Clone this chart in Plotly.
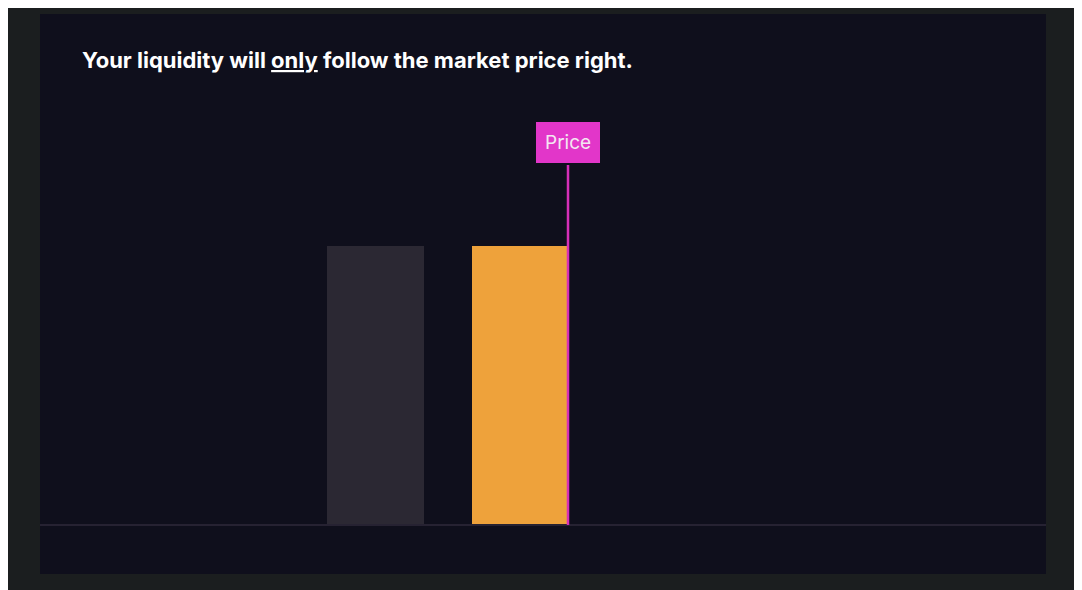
import plotly.graph_objects as go

# data
bar_positions = [335.5, 480.0]      # bin centers (x units)
bar_values = [1.0, 1.0]             # liquidity heights
bar_colors = ["#2b2833", "#eea23b"]
price_value = 528.0
price_label = "Price"
title_text = "Your liquidity will <u>only</u> follow the market price right."

fig = go.Figure()
fig.add_trace(go.Bar(x=bar_positions, y=bar_values, width=97,
                     marker=dict(color=bar_colors, line=dict(width=0)),
                     hoverinfo="skip", showlegend=False))
fig.add_shape(type="line", xref="paper", x0=0, x1=1, y0=0, y1=0,
              line=dict(color="#262232", width=2))
fig.add_shape(type="line", x0=price_value, x1=price_value, y0=0, y1=1.29,
              line=dict(color="#d62fb8", width=2.5))
fig.add_annotation(x=price_value, y=1.372, text=price_label, showarrow=False,
                   font=dict(family="Inter", size=19, color="#f4e6f2"),
                   bgcolor="#e236c9", borderpad=8, bordercolor="#e236c9")
fig.add_annotation(xref="paper", yref="paper", x=0.04, y=0.944, xanchor="left",
                   text="<b>" + title_text + "</b>", showarrow=False,
                   font=dict(family="Inter", size=22, color="#ffffff"))

fig.update_layout(
    width=1082, height=590,
    margin=dict(l=32, r=44, t=6, b=24),
    paper_bgcolor="#1b1e1f", plot_bgcolor="#0f0f1c",
    xaxis=dict(range=[0, 1006], visible=False, fixedrange=True),
    yaxis=dict(range=[-0.1756, 1.8316], visible=False, fixedrange=True),
    bargap=0,
)
fig.write_html("out.html")
